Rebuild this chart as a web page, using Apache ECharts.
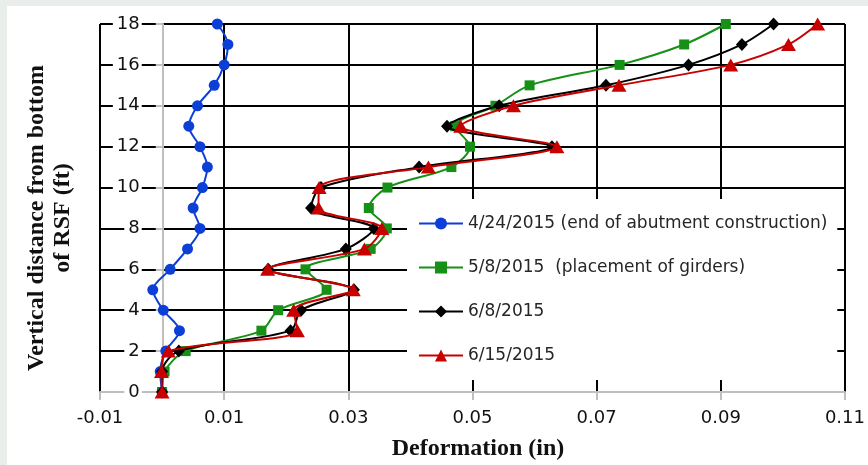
<!DOCTYPE html>
<html>
<head>
<meta charset="utf-8">
<script src="https://cdn.jsdelivr.net/npm/echarts@6/dist/echarts.min.js"></script>
<style>
  html, body { margin: 0; padding: 0; background: #e9eeeb; width: 868px; height: 465px; overflow: hidden; }
  #chart { position: absolute; left: 7px; top: 6px; width: 861px; height: 459px; background: #ffffff; }
</style>
</head>
<body>
<div id="chart"></div>
<script>
// ---- data ----
const depthFt = [0, 1, 2, 3, 4, 5, 6, 7, 8, 9, 10, 11, 12, 13, 14, 15, 16, 17, 18];

const seriesNames = [
  '4/24/2015 (end of abutment construction)',
  '5/8/2015  (placement of girders)',
  '6/8/2015',
  '6/15/2015'
];

const def0424 = [0.0000, -0.0003, 0.0006, 0.0028, 0.0002, -0.0015, 0.0013, 0.0041, 0.0061, 0.0050,
                 0.0065, 0.0073, 0.0061, 0.0043, 0.0057, 0.0084, 0.0100, 0.0106, 0.0089];
const def0508 = [0.0000, 0.0004, 0.0038, 0.0160, 0.0187, 0.0265, 0.0231, 0.0336, 0.0362, 0.0333,
                 0.0363, 0.0466, 0.0496, 0.0472, 0.0537, 0.0592, 0.0737, 0.0841, 0.0908];
const def0608 = [0.0000, 0.0000, 0.0027, 0.0207, 0.0224, 0.0309, 0.0171, 0.0296, 0.0341, 0.0240,
                 0.0256, 0.0414, 0.0628, 0.0459, 0.0543, 0.0715, 0.0848, 0.0934, 0.0985];
const def0615 = [0.0000, -0.0001, 0.0010, 0.0218, 0.0212, 0.0308, 0.0170, 0.0326, 0.0354, 0.0252,
                 0.0253, 0.0429, 0.0636, 0.0481, 0.0566, 0.0736, 0.0916, 0.1009, 0.1056];

const xTickLabels = ['-0.01', '0.01', '0.03', '0.05', '0.07', '0.09', '0.11'];
const yTickLabels = ['0', '2', '4', '6', '8', '10', '12', '14', '16', '18'];

// ---- chart ----
const chart = echarts.init(document.getElementById('chart'), null, { renderer: 'canvas' });

function pairs(vals) { return depthFt.map((d, i) => [vals[i], d]); }

const tickFont = { fontFamily: 'DejaVu Sans', fontSize: 18, color: '#111111' };

const styles = [
  { color: '#0b3fd6', symbol: 'circle', size: 11 },
  { color: '#169016', symbol: 'rect', size: 10 },
  { color: '#000000', symbol: 'diamond', size: [12, 13] },
  { color: '#c80000', symbol: 'triangle', size: [15, 13] }
];
const allVals = [def0424, def0508, def0608, def0615];

// grid geometry (inside the white panel)
const gridLeft = 93, gridRight = 15, gridWidth = 861 - gridLeft - gridRight;
const xMin = -0.01, xMax = 0.11;
// y axis crosses at deformation = 0, drawn with an inward offset
const yAxisOffset = -gridWidth * (0 - xMin) / (xMax - xMin);

const option = {
  animation: false,
  grid: { left: gridLeft, top: 18, right: gridRight, bottom: 73, containLabel: false },
  xAxis: [
    { type: 'value', min: xMin, max: xMax, show: false, position: 'bottom' },
    {
      type: 'value', min: 0, max: 0.12, interval: 0.02, position: 'bottom',
      axisLine: { show: true, onZero: false, lineStyle: { color: '#bfbfbf', width: 2 } },
      axisTick: { show: true, length: 8, lineStyle: { color: '#bfbfbf', width: 2 } },
      axisLabel: Object.assign({
        margin: 17,
        formatter: function (v) { return xTickLabels[Math.round(v / 0.02)]; }
      }, tickFont),
      splitLine: { show: true, lineStyle: { color: '#000000', width: 2 } }
    }
  ],
  yAxis: [
    {
      type: 'value', min: 0, max: 18, interval: 2, position: 'left', z: 0,
      axisLine: { show: false, onZero: false }, axisTick: { show: false }, axisLabel: { show: false },
      splitLine: { show: true, lineStyle: { color: '#000000', width: 2 } }
    },
    {
      type: 'value', min: 0, max: 18, interval: 2, position: 'left', z: 1,
      offset: yAxisOffset,
      axisLine: { show: true, onZero: false, lineStyle: { color: '#bfbfbf', width: 2 } },
      axisTick: { show: true, length: 7, lineStyle: { color: '#bfbfbf', width: 2 } },
      axisLabel: Object.assign({
        margin: 21, backgroundColor: '#ffffff', padding: [1, 2, 1, 4],
        formatter: function (v) { return yTickLabels[Math.round(v / 2)]; }
      }, tickFont),
      splitLine: { show: false }
    }
  ],
  legend: {
    orient: 'vertical', left: 400, top: 193,
    backgroundColor: '#ffffff', padding: [16, 10, 16, 11],
    itemWidth: 44, itemHeight: 15, itemGap: 27,
    textStyle: { fontFamily: 'DejaVu Sans', fontSize: 17, color: '#262626' },
    data: seriesNames
  },
  graphic: [
    {
      type: 'text', x: 471, y: 443,
      style: { text: 'Deformation (in)', fontFamily: 'Liberation Serif', fontWeight: 'bold', fontSize: 24,
               fill: '#111111', textAlign: 'center', textVerticalAlign: 'middle' }
    },
    {
      type: 'text', x: 43, y: 212, rotation: Math.PI / 2,
      style: { text: 'Vertical distance from bottom\nof RSF (ft)', fontFamily: 'Liberation Serif', fontWeight: 'bold',
               fontSize: 24, lineHeight: 26, fill: '#111111', textAlign: 'center', textVerticalAlign: 'middle' }
    }
  ],
  series: allVals.map((vals, k) => ({
    name: seriesNames[k], type: 'line', xAxisIndex: 0, yAxisIndex: 0,
    data: pairs(vals), smooth: 0.3, clip: false, z: 2 + k,
    symbol: styles[k].symbol, symbolSize: styles[k].size,
    lineStyle: { color: styles[k].color, width: 2 },
    itemStyle: { color: styles[k].color }
  }))
};

chart.setOption(option);
</script>
</body>
</html>
